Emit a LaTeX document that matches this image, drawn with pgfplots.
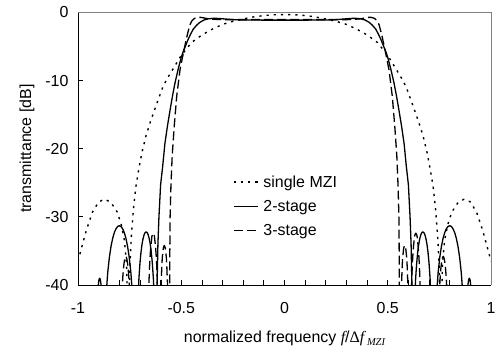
\documentclass[border=0pt]{standalone}
\usepackage{fontspec}
\setmainfont{Liberation Sans}
\newfontfamily\serif{Liberation Serif}
\usepackage{pgfplots}
\pgfplotsset{compat=1.18}
\begin{document}
\begin{tikzpicture}[font=\fontsize{16}{18}\selectfont]
\begin{axis}[
  name=ax,
  scale only axis, width=413bp, height=272.5bp,
  xmin=-1, xmax=1, ymin=-40, ymax=0,
  axis x line*=bottom, axis y line*=left,
  axis line style={black, line width=0.9bp},
  xtick={-1,-0.5,0,0.5,1},
  minor xtick={-0.9,-0.8,-0.7,-0.6,-0.4,-0.3,-0.2,-0.1,0.1,0.2,0.3,0.4,0.6,0.7,0.8,0.9},
  ytick={-40,-30,-20,-10,0},
  tick align=inside,
  major tick length=5bp, minor tick length=5bp,
  tick style={black, line width=0.8bp},
  /pgf/number format/assume math mode=true,
  xticklabel style={yshift=-14bp},
  yticklabel style={xshift=-6bp},
  xlabel={normalized frequency {\serif\itshape f}/{\serif Δ}{\serif\itshape f}\,\raisebox{-0.35ex}{\fontsize{10.5}{11}\selectfont\serif\itshape MZI}},
  ylabel={transmittance [dB]},
  every axis x label/.style={at={(rel axis cs:0.5,0)}, yshift=-53bp, anchor=center},
  every axis y label/.style={at={(rel axis cs:0,0.5)}, xshift=-51bp, rotate=90, anchor=center},
  clip mode=individual,
  every axis plot/.append style={line join=round},
  legend style={draw=none, fill=none, at={(axis cs:-0.25,-23.6)}, anchor=north west, row sep=7.5bp, inner sep=0pt, cells={anchor=west}},
  legend image code/.code={\draw[#1] (0bp,0bp) -- (24bp,0bp); \path (27bp,0bp);},
]
\addplot[black, line width=1.4bp, dash pattern=on 2.2bp off 5bp] coordinates {
(-1,-36.5) (-0.985,-34.8) (-0.96,-32) (-0.93,-29.3) (-0.9,-27.8) (-0.87,-27.4) (-0.84,-27.9) (-0.81,-29.3) (-0.79,-31.2) (-0.775,-33.5) (-0.765,-37) (-0.758,-45) (-0.755,-70) (-0.75,-38) (-0.742,-33) (-0.732,-29.0) (-0.72,-25.6) (-0.705,-22.9) (-0.69,-20.5) (-0.67,-18.0) (-0.65,-16.1) (-0.62,-13.5) (-0.59,-11.0) (-0.57,-9.8) (-0.55,-8.8) (-0.52,-7.3) (-0.5,-6.3) (-0.45,-4.4) (-0.4,-3.3) (-0.35,-2.45) (-0.3,-1.75) (-0.25,-1.3) (-0.2,-0.95) (-0.15,-0.65) (-0.1,-0.45) (-0.05,-0.33) (0,-0.3)
(0.05,-0.33) (0.1,-0.45) (0.15,-0.65) (0.2,-0.95) (0.25,-1.3) (0.3,-1.75) (0.35,-2.45) (0.4,-3.3) (0.45,-4.4) (0.5,-6.3) (0.52,-7.3) (0.55,-8.8) (0.57,-9.8) (0.59,-11.0) (0.62,-13.5) (0.65,-16.1) (0.67,-18.0) (0.69,-20.5) (0.705,-22.9) (0.72,-25.6) (0.732,-29.0) (0.742,-33) (0.75,-38) (0.755,-70) (0.758,-45) (0.765,-37) (0.775,-33.5) (0.79,-31.2) (0.81,-29.3) (0.84,-27.9) (0.87,-27.4) (0.9,-27.8) (0.93,-29.3) (0.96,-32) (0.985,-34.8) (1,-36.5)
};
\addlegendentry{single MZI}
\addplot[black, line width=1.3bp] coordinates {
(-0.915,-70) (-0.905,-41.5) (-0.901,-39.8) (-0.898,-39.2) (-0.895,-39.0) (-0.892,-39.2) (-0.889,-39.8) (-0.885,-41.5) (-0.88,-70)
(-0.864,-41.5) (-0.856,-38.16) (-0.848,-35.92) (-0.84,-34.31) (-0.832,-33.14) (-0.824,-32.3) (-0.816,-31.74) (-0.808,-31.41) (-0.8,-31.3) (-0.792,-31.41) (-0.784,-31.74) (-0.776,-32.3) (-0.768,-33.14) (-0.76,-34.31) (-0.752,-35.92) (-0.744,-38.16) (-0.736,-41.5) (-0.72,-70)
(-0.71,-42.4) (-0.705,-39.06) (-0.7,-36.82) (-0.695,-35.21) (-0.69,-34.04) (-0.685,-33.2) (-0.68,-32.64) (-0.675,-32.31) (-0.67,-32.2) (-0.665,-32.31) (-0.66,-32.64) (-0.655,-33.2) (-0.65,-34.04) (-0.645,-35.21) (-0.64,-36.82) (-0.635,-39.06) (-0.63,-42.4) (-0.62,-70)
(-0.617,-40) (-0.613,-34) (-0.608,-30) (-0.6,-25.3) (-0.59,-22.6) (-0.579,-19.2) (-0.567,-16.7) (-0.554,-14.3) (-0.542,-12.2) (-0.53,-10.3) (-0.514,-8.2) (-0.5,-6.6) (-0.49,-5.7) (-0.478,-4.8) (-0.466,-3.9) (-0.455,-3.2) (-0.442,-2.45) (-0.425,-1.85) (-0.41,-1.45) (-0.39,-1.1) (-0.37,-0.93) (-0.345,-0.86) (-0.32,-0.87) (-0.29,-0.95) (-0.25,-1.05) (-0.2,-1.1) (-0.1,-1.12) (0,-1.12)
(0.1,-1.12) (0.2,-1.1) (0.25,-1.05) (0.29,-0.95) (0.32,-0.87) (0.345,-0.86) (0.37,-0.93) (0.39,-1.1) (0.41,-1.45) (0.425,-1.85) (0.442,-2.45) (0.455,-3.2) (0.466,-3.9) (0.478,-4.8) (0.49,-5.7) (0.5,-6.6) (0.514,-8.2) (0.53,-10.3) (0.542,-12.2) (0.554,-14.3) (0.567,-16.7) (0.579,-19.2) (0.59,-22.6) (0.6,-25.3) (0.608,-30) (0.613,-34) (0.617,-40) (0.62,-70)
(0.63,-42.4) (0.635,-39.06) (0.64,-36.82) (0.645,-35.21) (0.65,-34.04) (0.655,-33.2) (0.66,-32.64) (0.665,-32.31) (0.67,-32.2) (0.675,-32.31) (0.68,-32.64) (0.685,-33.2) (0.69,-34.04) (0.695,-35.21) (0.7,-36.82) (0.705,-39.06) (0.71,-42.4) (0.72,-70)
(0.736,-41.5) (0.744,-38.16) (0.752,-35.92) (0.76,-34.31) (0.768,-33.14) (0.776,-32.3) (0.784,-31.74) (0.792,-31.41) (0.8,-31.3) (0.808,-31.41) (0.816,-31.74) (0.824,-32.3) (0.832,-33.14) (0.84,-34.31) (0.848,-35.92) (0.856,-38.16) (0.864,-41.5) (0.88,-70)
(0.885,-41.5) (0.889,-39.8) (0.892,-39.2) (0.895,-39.0) (0.898,-39.2) (0.901,-39.8) (0.905,-41.5) (0.915,-70)
};
\addlegendentry{2-stage}
\addplot[black, line width=1.3bp, dash pattern=on 9bp off 4bp] coordinates {
(-0.797,-70) (-0.791,-46) (-0.789,-42.66) (-0.786,-40.42) (-0.783,-38.81) (-0.78,-37.64) (-0.777,-36.8) (-0.774,-36.24) (-0.771,-35.91) (-0.769,-35.8) (-0.766,-35.91) (-0.763,-36.24) (-0.76,-36.8) (-0.757,-37.64) (-0.754,-38.81) (-0.751,-40.42) (-0.749,-42.66) (-0.746,-46) (-0.74,-70)
(-0.664,-70) (-0.658,-42.6) (-0.656,-39.26) (-0.653,-37.02) (-0.65,-35.41) (-0.647,-34.24) (-0.644,-33.4) (-0.642,-32.84) (-0.639,-32.51) (-0.636,-32.4) (-0.633,-32.51) (-0.63,-32.84) (-0.628,-33.4) (-0.625,-34.24) (-0.622,-35.41) (-0.619,-37.02) (-0.616,-39.26) (-0.614,-42.6) (-0.608,-70)
(-0.601,-44.4) (-0.599,-41.06) (-0.596,-38.82) (-0.594,-37.21) (-0.592,-36.04) (-0.589,-35.2) (-0.587,-34.64) (-0.584,-34.31) (-0.582,-34.2) (-0.58,-34.31) (-0.577,-34.64) (-0.575,-35.2) (-0.572,-36.04) (-0.57,-37.21) (-0.568,-38.82) (-0.565,-41.06) (-0.563,-44.4) (-0.558,-70)
(-0.556,-38) (-0.554,-30) (-0.55,-25.5) (-0.544,-21.1) (-0.534,-16.7) (-0.522,-12.3) (-0.506,-8.4) (-0.49,-6.0) (-0.474,-3.7) (-0.465,-2.6) (-0.458,-1.8) (-0.448,-1.2) (-0.435,-0.85) (-0.42,-0.72) (-0.405,-0.72) (-0.39,-0.8) (-0.37,-0.92) (-0.34,-1.0) (-0.3,-1.05) (0,-1.05)
(0.3,-1.05) (0.34,-1.0) (0.37,-0.92) (0.39,-0.8) (0.405,-0.72) (0.42,-0.72) (0.435,-0.85) (0.448,-1.2) (0.458,-1.8) (0.465,-2.6) (0.474,-3.7) (0.49,-6.0) (0.506,-8.4) (0.522,-12.3) (0.534,-16.7) (0.544,-21.1) (0.55,-25.5) (0.554,-30) (0.556,-38) (0.558,-70)
(0.563,-44.4) (0.565,-41.06) (0.568,-38.82) (0.57,-37.21) (0.572,-36.04) (0.575,-35.2) (0.577,-34.64) (0.58,-34.31) (0.582,-34.2) (0.584,-34.31) (0.587,-34.64) (0.589,-35.2) (0.592,-36.04) (0.594,-37.21) (0.596,-38.82) (0.599,-41.06) (0.601,-44.4) (0.608,-70)
(0.614,-42.6) (0.616,-39.26) (0.619,-37.02) (0.622,-35.41) (0.625,-34.24) (0.628,-33.4) (0.63,-32.84) (0.633,-32.51) (0.636,-32.4) (0.639,-32.51) (0.642,-32.84) (0.644,-33.4) (0.647,-34.24) (0.65,-35.41) (0.653,-37.02) (0.656,-39.26) (0.658,-42.6) (0.664,-70)
(0.74,-70) (0.746,-46) (0.749,-42.66) (0.751,-40.42) (0.754,-38.81) (0.757,-37.64) (0.76,-36.8) (0.763,-36.24) (0.766,-35.91) (0.769,-35.8) (0.771,-35.91) (0.774,-36.24) (0.777,-36.8) (0.78,-37.64) (0.783,-38.81) (0.786,-40.42) (0.789,-42.66) (0.791,-46) (0.797,-70)
};
\addlegendentry{3-stage}
\draw[gray, line width=1.6bp] (rel axis cs:0,1) -- (rel axis cs:1,1);
\draw[gray, line width=0.8bp] (rel axis cs:1,1) -- (rel axis cs:1,0);
\end{axis}
\pgfresetboundingbox
\path[use as bounding box] ([xshift=-78bp,yshift=-65bp]ax.south west) rectangle ([xshift=5bp,yshift=12.5bp]ax.north east);
\end{tikzpicture}
\end{document}
